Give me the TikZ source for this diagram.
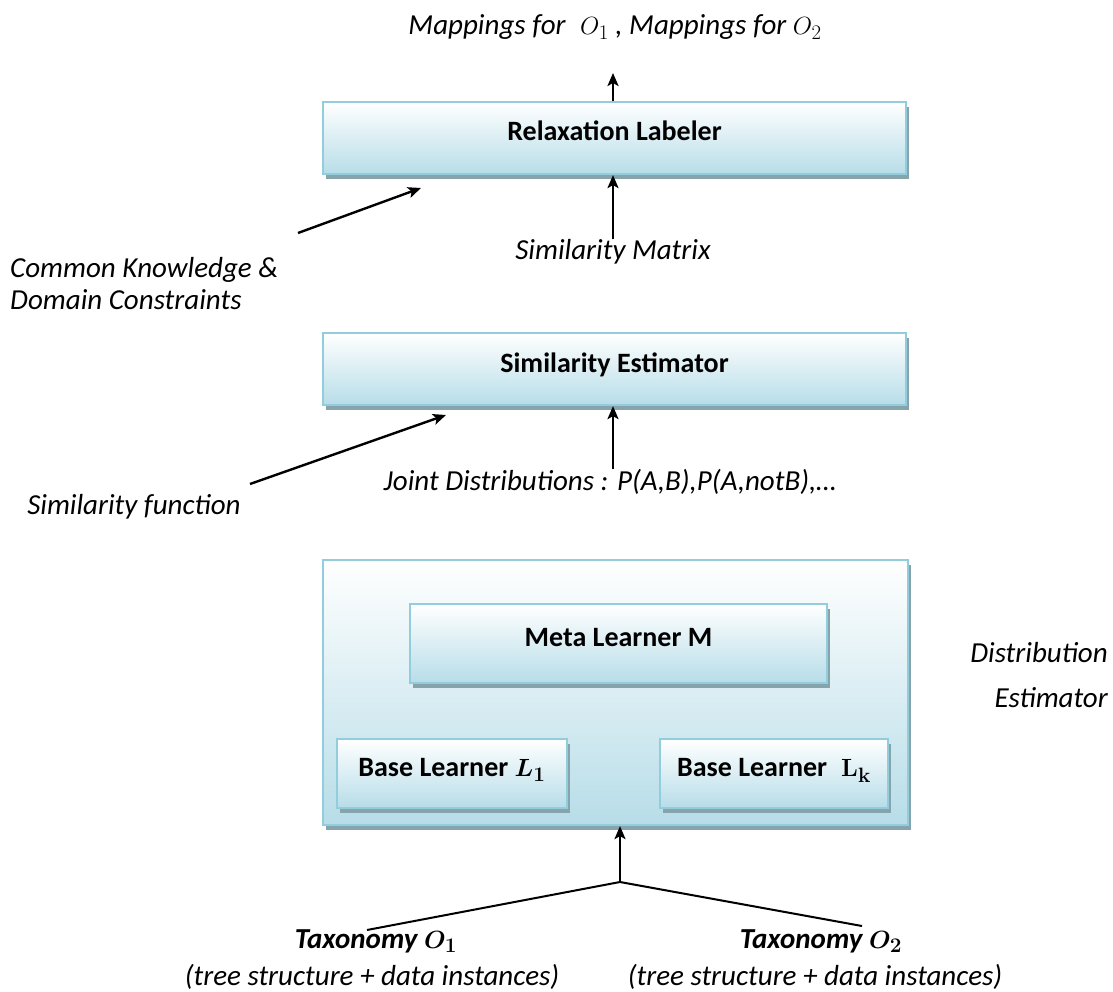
\documentclass[tikz,border=0pt]{standalone}
\usepackage[no-math]{fontspec}
\setmainfont{Carlito}
\usetikzlibrary{arrows.meta,shadows,calc}
\definecolor{boxedge}{HTML}{93CDDD}
\definecolor{boxfill}{HTML}{B7DDE8}
\definecolor{shadowc}{HTML}{86A4AC}
\tikzset{
  blockbox/.style={draw=boxedge, line width=2.2pt, top color=white, bottom color=boxfill,
    drop shadow={shadow xshift=3pt, shadow yshift=-5pt, fill=shadowc, opacity=1},
    font=\fontsize{28}{32}\selectfont\bfseries, inner sep=0pt,
    text height=20pt, text depth=14pt},
  lbl/.style={font=\fontsize{29}{32}\selectfont\itshape, inner sep=0pt},
  boldlbl/.style={font=\fontsize{29}{32}\selectfont\bfseries\itshape, inner sep=0pt},
  arr/.style={line width=2.4pt, -{Stealth[length=13pt,width=11pt,inset=3pt]}},
  plain/.style={line width=2pt}
}
\begin{document}
\begin{tikzpicture}[x=1pt,y=-1pt]
\useasboundingbox (0,0) rectangle (1113,992);

% processing stages
\node[blockbox, minimum width=583pt, minimum height=72pt] (relax) at (614.5,138) {Relaxation Labeler};
\node[blockbox, minimum width=583pt, minimum height=72pt] (simest) at (614.5,369) {Similarity Estimator};
\node[blockbox, minimum width=585pt, minimum height=265pt] (distest) at (615.5,692.5) {};
\node[blockbox, minimum width=417pt, minimum height=79pt] (meta) at (618.5,643.5) {Meta Learner M};
\node[blockbox, minimum width=230pt, minimum height=69pt] (base1) at (452,773.5) {Base Learner {\boldmath$L_1$}};
\node[blockbox, minimum width=228pt, minimum height=69pt] (basek) at (774,773.5) {Base Learner \;$\mathbf{L}_\mathbf{k}$};

% labels
\node[lbl] (maps) at (615,27) {Mappings for \;$O_1$ , Mappings for $O_2$};
\node[lbl] (simmat) at (613,252) {Similarity Matrix};
\node[lbl, align=left, anchor=west] (common) at (10,284) {Common Knowledge \&\\Domain Constraints};
\node[lbl] (joint) at (610,482) {Joint Distributions : P(A,B),P(A,notB),…};
\node[lbl] (simfun) at (134,507) {Similarity function};
\node[lbl, font=\fontsize{29}{45}\selectfont\itshape, align=right, anchor=east] (distlbl) at (1108,675) {Distribution\\Estimator};
\node[boldlbl] (tax1) at (376,941) {Taxonomy {\boldmath$O_1$}};
\node[lbl] (tree1) at (372,977) {(tree structure + data instances)};
\node[boldlbl] (tax2) at (821,941) {Taxonomy {\boldmath$O_2$}};
\node[lbl] (tree2) at (815,977) {(tree structure + data instances)};

% connectors
\coordinate (outtop) at (613,73);
\draw[arr] (relax.north -| outtop) -- (outtop);
\draw[arr] (simmat.north) -- (simmat.north |- relax.south);
\draw[arr] (joint.north -| simmat.north) -- (simmat.north |- simest.south);

\coordinate (cktail) at (298,233);
\coordinate (ckhead) at (421,188);
\draw[arr] (cktail) -- (ckhead);
\coordinate (sftail) at (250,484);
\coordinate (sfhead) at (446,415);
\draw[arr] (sftail) -- (sfhead);

\coordinate (join) at (620,882);
\coordinate (leftend) at (367,930);
\coordinate (rightend) at (862,926);
\draw[plain] (leftend) -- (join) -- (rightend);
\draw[arr] (join) -- (join |- distest.south);
\end{tikzpicture}
\end{document}
